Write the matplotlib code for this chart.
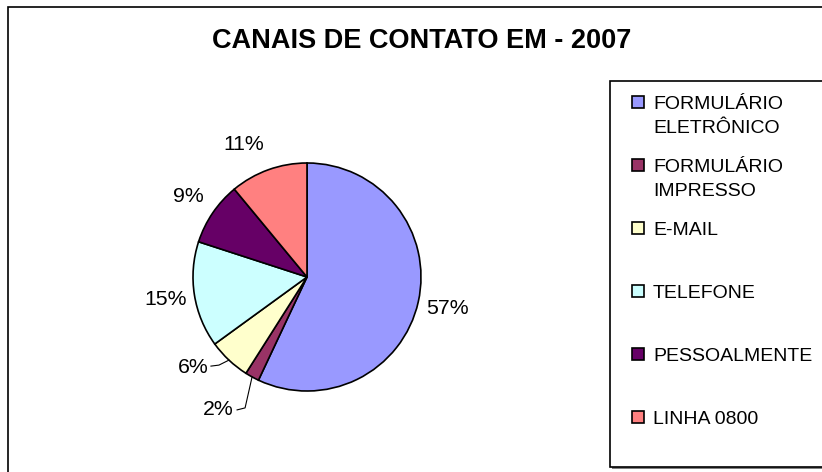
import matplotlib.pyplot as plt
import numpy as np
from matplotlib.patches import Rectangle

plt.rcParams["font.family"] = ["Liberation Sans", "DejaVu Sans"]

# Data
channels = [
    "FORMULÁRIO\nELETRÔNICO",
    "FORMULÁRIO\nIMPRESSO",
    "E-MAIL",
    "TELEFONE",
    "PESSOALMENTE",
    "LINHA 0800",
]
shares = [57, 2, 6, 15, 9, 11]
colors = ["#9999FF", "#993366", "#FFFFCC", "#CCFFFF", "#660066", "#FF8080"]

W, H = 822, 472


def up(y_img):
    # image rows (top-down) -> data y (bottom-up)
    return H - y_img


fig = plt.figure(figsize=(W / 100, H / 100), dpi=100)
ax = fig.add_axes([0, 0, 1, 1])

cx, cy, r = 307, up(277), 114
wedges, _ = ax.pie(
    shares,
    colors=colors,
    startangle=90,
    counterclock=False,
    center=(cx, cy),
    radius=r,
    wedgeprops=dict(edgecolor="black", linewidth=1.2),
)

ax.set_xlim(0, W)
ax.set_ylim(0, H)
ax.set_aspect("equal")
ax.axis("off")

# percent labels; the two thin slices get leader lines
leader = {1: ((-34, -33), (-15, -33), (-7, -31)), 2: ((-36, -7), (-18, -6), (-10, -5))}
nudge = {5: (-15, -3)}
for i, (w, v) in enumerate(zip(wedges, shares)):
    ang = np.deg2rad((w.theta1 + w.theta2) / 2)
    if i in leader:
        ex, ey = cx + r * np.cos(ang), cy + r * np.sin(ang)
        (tx, ty), (sx, sy), (mx, my) = leader[i]
        ax.plot([ex + sx, ex + mx, ex], [ey + sy, ey + my, ey], color="black", lw=0.8)
        ax.text(ex + tx, ey + ty, f"{v}%", ha="center", va="center", fontsize=15.3)
    else:
        d = 1.26 * r
        nx, ny = nudge.get(i, (0, 0))
        ax.text(cx + d * np.cos(ang) + nx, cy + d * np.sin(ang) + ny, f"{v}%",
                ha="center", va="center", fontsize=15.3)

ax.text(422, up(41), "CANAIS DE CONTATO EM - 2007", ha="center", va="center",
        fontsize=19.5, fontweight="bold")

# outer chart border (right/bottom fall outside the picture)
ax.add_patch(Rectangle((8, -20), W + 40, up(7) + 20, fill=False, edgecolor="black", lw=1.2))

# legend box with a light shadow
ax.add_patch(Rectangle((612, up(469)), W, 386, facecolor="#808080", edgecolor="none"))
ax.add_patch(Rectangle((610, up(467)), W, 386, facecolor="white", edgecolor="black", lw=1.2))

for i, (lab, col) in enumerate(zip(channels, colors)):
    base = 109 + i * 63
    ax.add_patch(Rectangle((632, up(base - 1)), 12, 12, facecolor=col,
                           edgecolor="black", lw=1.2))
    for j, line in enumerate(lab.split("\n")):
        ax.text(653, up(base + j * 24), line, ha="left", va="baseline", fontsize=14)

fig.savefig("out.png", dpi=100)
